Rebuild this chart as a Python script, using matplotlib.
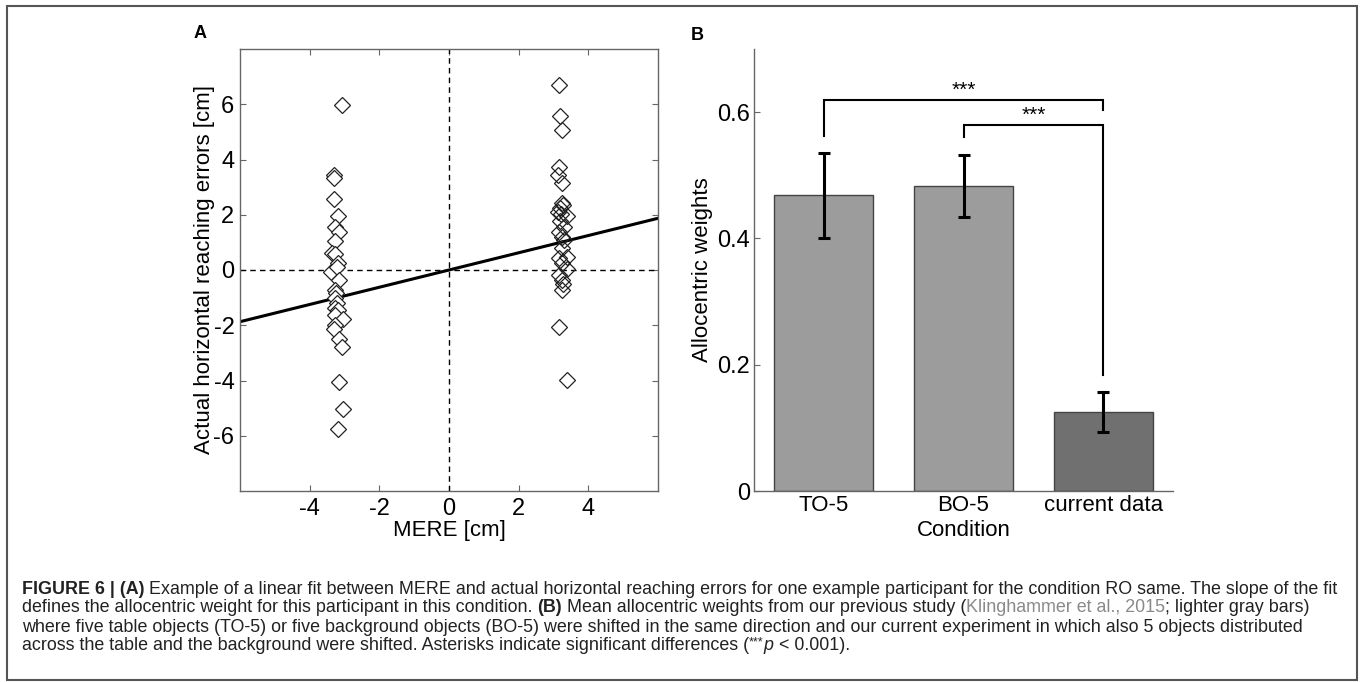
import matplotlib
matplotlib.use("Agg")
import matplotlib.pyplot as plt
from matplotlib.patches import Rectangle
import numpy as np

plt.rcParams['font.family'] = ['Liberation Sans', 'DejaVu Sans']
plt.rcParams['axes.unicode_minus'] = False

# ---------------- Data: panel A ----------------
left_x = [-3.06, -3.30, -3.29, -3.30, -3.18, -3.27, -3.16, -3.28, -3.35, -3.28,
          -3.18, -3.39, -3.22, -3.16, -3.27, -3.24, -3.28, -3.22, -3.27, -3.18,
          -3.28, -3.03, -3.28, -3.30, -3.17, -3.06, -3.17, -3.05, -3.18]
left_y = [5.98, 3.44, 3.32, 2.56, 1.97, 1.55, 1.39, 1.05, 0.63, 0.57,
          0.24, -0.06, 0.12, -0.36, -0.72, -0.85, -1.03, -1.21, -1.39, -1.45,
          -1.63, -1.78, -1.99, -2.15, -2.51, -2.78, -4.07, -5.04, -5.74]
right_x = [3.15, 3.19, 3.25, 3.15, 3.13, 3.25, 3.25, 3.28, 3.18, 3.13,
           3.21, 3.40, 3.20, 3.30, 3.16, 3.25, 3.30, 3.25, 3.40, 3.15,
           3.25, 3.40, 3.15, 3.25, 3.28, 3.25, 3.16, 3.38]
right_y = [6.68, 5.56, 5.05, 3.74, 3.44, 3.14, 2.41, 2.36, 2.23, 2.11,
           2.03, 1.96, 1.79, 1.57, 1.39, 1.21, 1.09, 0.79, 0.46, 0.42,
           0.24, 0.03, -0.18, -0.36, -0.51, -0.72, -2.05, -3.99]
fit_slope = 0.312
fit_intercept = 0.0
a_xticks = [-4, -2, 0, 2, 4]
a_yticks = [-6, -4, -2, 0, 2, 4, 6]

# ---------------- Data: panel B ----------------
conditions = ["TO-5", "BO-5", "current data"]
weights = [0.468, 0.483, 0.125]
weight_err = [0.067, 0.049, 0.032]
bar_colors = ["#9c9c9c", "#9c9c9c", "#707070"]
b_yticks = [0, 0.2, 0.4, 0.6]
b_yticklabels = ["0", "0.2", "0.4", "0.6"]

W, H = 1360, 682
fig = plt.figure(figsize=(W / 100, H / 100), dpi=100)

def fx(px):
    return px / W

def fy(py):
    return 1 - py / H

TICK_FS = 17
LABEL_FS = 16

# ---------------- Panel A ----------------
axA = fig.add_axes([fx(240), fy(491), fx(658) - fx(240), fy(49) - fy(491)])
axA.axvline(0, color="black", lw=1.0, dashes=(4, 3))
axA.axhline(0, color="black", lw=1.0, dashes=(4, 3))
xs = np.array([-6, 6])
axA.plot(xs, fit_slope * xs + fit_intercept, color="black", lw=2.2)
axA.plot(left_x, left_y, linestyle="none", marker="D", markersize=8,
         markerfacecolor="white", markeredgecolor="#222222", markeredgewidth=0.9)
axA.plot(right_x, right_y, linestyle="none", marker="D", markersize=8,
         markerfacecolor="none", markeredgecolor="#222222", markeredgewidth=0.9)
axA.set_xlim(-6, 6)
axA.set_ylim(-8, 8)
axA.set_xticks(a_xticks)
axA.set_yticks(a_yticks)
axA.set_xticklabels([str(v) for v in a_xticks])
axA.set_yticklabels([str(v) for v in a_yticks])
axA.tick_params(direction="in", top=True, right=True, length=4, width=0.8,
                color="#666666", labelsize=TICK_FS)
axA.tick_params(axis="y", pad=4)
axA.tick_params(axis="x", pad=5)
for s in axA.spines.values():
    s.set_color("#666666")
    s.set_linewidth(1.0)
axA.set_xlabel("MERE [cm]", fontsize=LABEL_FS, labelpad=0)
axA.set_ylabel("Actual horizontal reaching errors [cm]", fontsize=LABEL_FS, labelpad=-1)
fig.text(fx(200), fy(33), "A", fontsize=13, fontweight="bold", ha="center", va="center")

# ---------------- Panel B ----------------
axB = fig.add_axes([fx(754), fy(491), fx(1173) - fx(754), fy(49) - fy(491)])
pos = np.arange(1, len(conditions) + 1)
axB.bar(pos, weights, width=0.71, color=bar_colors, edgecolor="#444444", linewidth=1.0)
axB.errorbar(pos, weights, yerr=weight_err, fmt="none", ecolor="black",
             elinewidth=2.2, capsize=4, capthick=2.2)
axB.set_xlim(0.5, 3.5)
axB.set_ylim(0, 0.7)
axB.set_yticks(b_yticks)
axB.set_yticklabels(b_yticklabels)
axB.set_xticks(pos)
axB.set_xticklabels(conditions)
axB.tick_params(axis="y", direction="in", length=4, width=0.8, color="#666666",
                labelsize=TICK_FS, pad=3)
axB.tick_params(axis="x", length=0, labelsize=16, pad=3)
axB.spines["top"].set_visible(False)
axB.spines["right"].set_visible(False)
for k in ("left", "bottom"):
    axB.spines[k].set_color("#666666")
    axB.spines[k].set_linewidth(1.0)
axB.set_xlabel("Condition", fontsize=LABEL_FS, labelpad=3)
axB.set_ylabel("Allocentric weights", fontsize=LABEL_FS, labelpad=3)
fig.text(fx(697), fy(36), "B", fontsize=13, fontweight="bold", ha="center", va="center")

# significance brackets
def bracket(ax, x1, x2, y, y1, y2, label):
    ax.plot([x1, x1, x2, x2], [y1, y, y, y2], color="black", lw=1.5,
            solid_joinstyle="miter", clip_on=False)
    ax.text((x1 + x2) / 2, y + 0.001, label, ha="center", va="bottom",
            fontsize=15, clip_on=False)

bracket(axB, pos[0], pos[2], 0.619, 0.563, 0.604, "***")
bracket(axB, pos[1], pos[2], 0.579, 0.561, 0.184, "***")

# ---------------- Frame ----------------
fig.add_artist(Rectangle((fx(7), fy(680)), fx(1357) - fx(7), fy(6) - fy(680),
                         transform=fig.transFigure, fill=False,
                         edgecolor="#555555", linewidth=1.5))

# ---------------- Caption ----------------
cap_lines = [
    [("FIGURE 6 | (A)", "b"),
     (" Example of a linear fit between MERE and actual horizontal reaching errors for one example participant for the condition RO same. The slope of the fit", "n")],
    [("defines the allocentric weight for this participant in this condition. ", "n"),
     ("(B)", "b"),
     (" Mean allocentric weights from our previous study (", "n"),
     ("Klinghammer et al., 2015", "g"),
     ("; lighter gray bars)", "n")],
    [("where five table objects (TO-5) or five background objects (BO-5) were shifted in the same direction and our current experiment in which also 5 objects distributed", "n")],
    [("across the table and the background were shifted. Asterisks indicate significant differences (", "n"),
     ("***", "s"),
     ("p", "i"),
     (" < 0.001).", "n")],
]
cap_family = ['Liberation Sans Narrow', 'Liberation Sans', 'DejaVu Sans']
renderer = fig.canvas.get_renderer()

def props(kind, size):
    d = dict(fontsize=size, family=cap_family, color="#222222")
    if kind == "b":
        d["fontweight"] = "bold"
    if kind == "g":
        d["color"] = "#8a8a8a"
    if kind == "i":
        d["fontstyle"] = "italic"
    if kind == "s":
        d["fontsize"] = size * 0.7
    return d

def adv(s, kind, size):
    p = props(kind, size)
    t1 = fig.text(0, 0, "a" + s + "a", **p)
    t2 = fig.text(0, 0, "aa", **p)
    w = t1.get_window_extent(renderer).width - t2.get_window_extent(renderer).width
    t1.remove(); t2.remove()
    return w

base = 10.0
w1 = sum(adv(s, k, base) for s, k in cap_lines[0])
cap_size = base * (1338 - 22) / w1
line_y = [589, 608, 627, 646]
for segs, yy in zip(cap_lines, line_y):
    x = 22.0
    for s, k in segs:
        p = props(k, cap_size)
        dy = 4 if k == "s" else 0
        fig.text(fx(x), fy(yy - dy), s, ha="left", va="center", **p)
        x += adv(s, k, cap_size)

fig.savefig("out.png", dpi=100)
